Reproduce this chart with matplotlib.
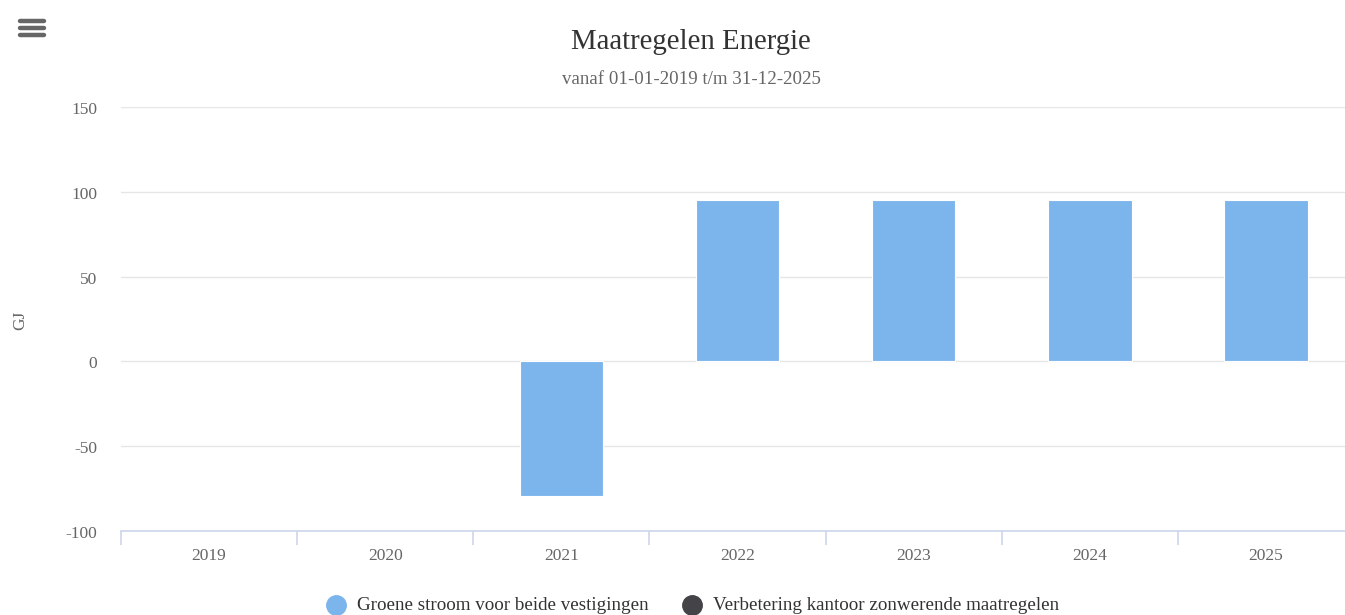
import matplotlib
matplotlib.use("Agg")
import matplotlib.pyplot as plt
import matplotlib.transforms as mtransforms
from matplotlib.lines import Line2D

# Data
years = ["2019", "2020", "2021", "2022", "2023", "2024", "2025"]
groene_stroom = [None, None, -79.3, 95.4, 95.4, 95.4, 95.4]
series_names = ["Groene stroom voor beide vestigingen",
                "Verbetering kantoor zonwerende maatregelen"]
series_colors = ["#7cb5ec", "#434348"]
y_ticks = [-100, -50, 0, 50, 100, 150]

plt.rcParams["font.family"] = ["Liberation Serif", "DejaVu Serif"]

W, H = 1345, 615
fig = plt.figure(figsize=(W / 100, H / 100), dpi=100)
# plot area runs slightly past the right edge of the picture
ax = fig.add_axes([121 / W, 1 - 531 / H, (1354 - 121) / W, (531 - 107) / H])

idx = [i for i, v in enumerate(groene_stroom) if v is not None]
vals = [groene_stroom[i] for i in idx]
ax.bar(idx, vals, width=0.475, color=series_colors[0], zorder=3,
       edgecolor="white", linewidth=0.8)

ax.set_xlim(-0.5, len(years) - 0.5)
ax.set_ylim(-100, 150)
ax.set_yticks(y_ticks)
ax.set_yticklabels([str(t) for t in y_ticks])
ax.grid(axis="y", color="#e6e6e6", linewidth=1, zorder=0)
for s in ["top", "right", "left"]:
    ax.spines[s].set_visible(False)
ax.spines["bottom"].set_color("#ccd6eb")
ax.spines["bottom"].set_linewidth(1.2)

ax.set_xticks(range(len(years)))
ax.set_xticklabels(years)
ax.set_xticks([i - 0.5 for i in range(len(years) + 1)], minor=True)
ax.tick_params(axis="x", which="major", length=0, pad=12, labelsize=12.5, labelcolor="#666666")
ax.tick_params(axis="x", which="minor", length=10, color="#ccd6eb", width=1.2)
ax.tick_params(axis="y", length=0, pad=17, labelsize=12.5, labelcolor="#666666")
# labels sit a little below their grid lines
shift = mtransforms.ScaledTranslation(0, -3 / 100, fig.dpi_scale_trans)
for lab in ax.get_yticklabels():
    lab.set_verticalalignment("center")
    lab.set_transform(lab.get_transform() + shift)

fig.text(20 / W, 1 - 320 / H, "GJ", rotation=90, ha="center", va="center",
         fontsize=12.5, color="#666666")

fig.text(691 / W, 1 - 42 / H, "Maatregelen Energie", ha="center", va="center",
         fontsize=20.7, color="#333333")
fig.text(691 / W, 1 - 79 / H, "vanaf 01-01-2019 t/m 31-12-2025", ha="center", va="center",
         fontsize=13.6, color="#666666")

# menu icon
for yy in (21, 28, 35):
    fig.add_artist(Line2D([20 / W, 44 / W], [1 - yy / H, 1 - yy / H],
                          color="#666666", linewidth=3.2, solid_capstyle="round"))

# legend
legend_x = [336, 692]
for lx, name, col in zip(legend_x, series_names, series_colors):
    fig.add_artist(Line2D([lx / W], [1 - 605 / H], marker="o", markersize=14,
                          color=col, linestyle="none"))
    fig.text((lx + 21) / W, 1 - 606 / H, name, ha="left", va="center",
             fontsize=13.7, color="#333333")

fig.savefig("out.png", dpi=100, facecolor="white")
